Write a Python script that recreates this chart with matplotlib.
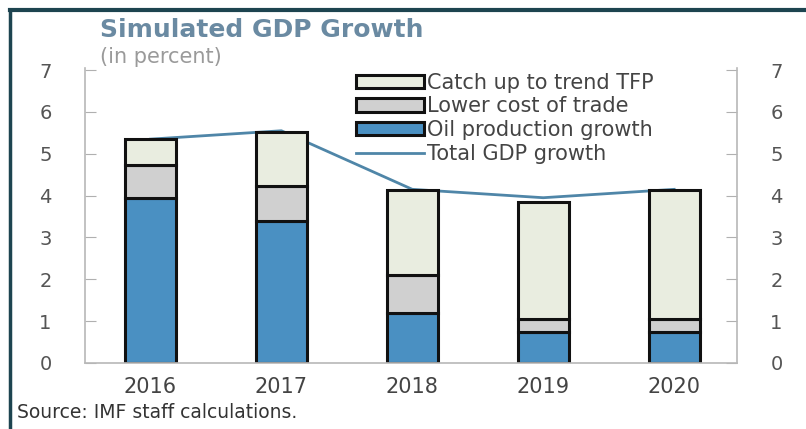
import matplotlib
matplotlib.use("Agg")
import matplotlib.pyplot as plt
from matplotlib.patches import Patch
from matplotlib.lines import Line2D
import numpy as np

years = ["2016", "2017", "2018", "2019", "2020"]
oil = [3.94, 3.39, 1.20, 0.75, 0.75]
trade = [0.80, 0.85, 0.90, 0.31, 0.31]
catchup = [0.62, 1.29, 2.03, 2.79, 3.07]
total = [5.35, 5.55, 4.15, 3.95, 4.15]
yticks = [0, 1, 2, 3, 4, 5, 6, 7]

c_oil = "#4a90c2"
c_trade = "#d0d0d0"
c_catch = "#e9ede0"
c_line = "#4f86a8"
edge = "#111111"

plt.rcParams['font.family'] = ['DejaVu Sans']

fig = plt.figure(figsize=(8.06, 4.29), dpi=100)
ax = fig.add_axes([85/806, 1-363/429, (737-85)/806, (363-68)/429])

x = np.arange(len(years))
w = 0.39
ax.plot(x, total, color=c_line, lw=2.0, zorder=1)
ax.bar(x, oil, w, color=c_oil, edgecolor=edge, lw=2.2, zorder=2)
ax.bar(x, trade, w, bottom=oil, color=c_trade, edgecolor=edge, lw=2.2, zorder=2)
bot2 = [a + b for a, b in zip(oil, trade)]
ax.bar(x, catchup, w, bottom=bot2, color=c_catch, edgecolor=edge, lw=2.2, zorder=2)

ax.set_xlim(-0.5, 4.48)
ax.set_ylim(0, 7.05)
ax.set_yticks(yticks)
ax.set_xticks(x)
ax.set_xticklabels(years, fontsize=15, color="#444444")
ax.tick_params(axis='x', length=0, pad=10)
ax.tick_params(axis='y', direction='in', length=8, color="#b0b0b0", labelsize=14,
               labelcolor="#555555", pad=24, left=True, right=True,
               labelleft=True, labelright=True)
for s in ['left', 'right', 'bottom']:
    ax.spines[s].set_color("#b8b8b8")
    ax.spines[s].set_linewidth(1.2)
ax.spines['top'].set_visible(False)

handles = [Patch(facecolor=c_catch, edgecolor=edge, lw=2.2),
           Patch(facecolor=c_trade, edgecolor=edge, lw=2.2),
           Patch(facecolor=c_oil, edgecolor=edge, lw=2.2),
           Line2D([0], [0], color=c_line, lw=2.0)]
labels = ["Catch up to trend TFP", "Lower cost of trade",
          "Oil production growth", "Total GDP growth"]
ax.legend(handles, labels, loc='upper left',
          bbox_to_anchor=(341/806, 1-58/429), bbox_transform=fig.transFigure,
          frameon=False, fontsize=15, handlelength=3.3, handleheight=0.6,
          handletextpad=0.15, labelspacing=0.18, borderpad=0.2,
          labelcolor="#444444")

fig.text(100/806, 1-30/429, "Simulated GDP Growth", fontsize=18, fontweight='bold',
         color="#6a8aa2", va='center', ha='left')
fig.text(100/806, 1-57/429, "(in percent)", fontsize=15, color="#9a9a9a",
         va='center', ha='left')
fig.text(17/806, 1-413/429, "Source: IMF staff calculations.", fontsize=13.5,
         color="#333333", va='center', ha='left')

# frame border
fig.add_artist(Line2D([10/806, 10/806], [0, 1-10/429], transform=fig.transFigure,
                      color="#1d4450", lw=2.5))
fig.add_artist(Line2D([10/806, 1], [1-10/429, 1-10/429], transform=fig.transFigure,
                      color="#1d4450", lw=3))

fig.savefig("out.png", dpi=100)
